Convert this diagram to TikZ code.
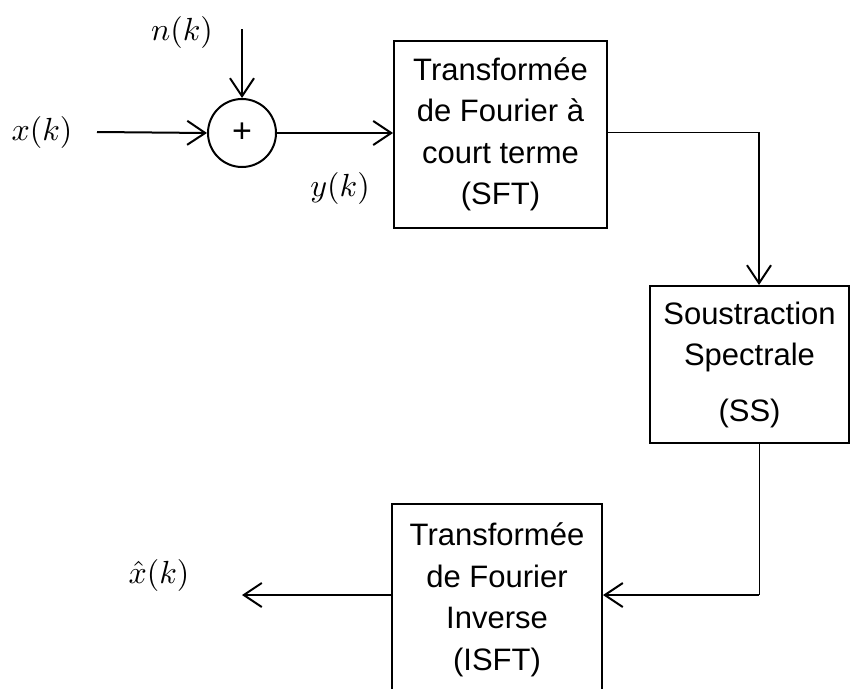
\documentclass[tikz,border=0pt]{standalone}
\usepackage{graphicx}
\usepackage{fontspec}
\setmainfont{Liberation Sans}
\usetikzlibrary{arrows.meta}
\newcommand{\mysig}[1]{\scalebox{3.2}{$#1$}}
\begin{document}
\begin{tikzpicture}[x=1pt,y=-1pt,
 blk/.style={draw,line width=2pt,inner sep=0pt,align=center,font=\fontsize{31}{41.5}\selectfont},
 sig/.style={inner sep=0pt},
 arr/.style={line width=2pt,-{Straight Barb[length=18pt,width=24pt,line width=2pt]}},
 thinline/.style={line width=1pt}]
\useasboundingbox (0,0) rectangle (851,688);
\node[sig] (xk) at (42,132) {\mysig{x(k)}};
\coordinate (xin) at (97,132);
\node[draw,circle,line width=2pt,minimum size=68pt,inner sep=0pt,font=\fontsize{34}{38}\selectfont] (sum) at (242,133) {+};
\node[sig] (nk) at (182,32) {\mysig{n(k)}};
\coordinate (nin) at (242,29);
\node[sig] (yk) at (340,188) {\mysig{y(k)}};
\node[blk,minimum width=213pt,minimum height=187pt] (b1) at (500.5,134.5) {Transformée\\de Fourier à\\court terme\\(SFT)};
\node[blk,minimum width=199pt,minimum height=157pt] (b2) at (749.5,364.5) {Soustraction\\Spectrale\\[14pt](SS)};
\node[blk,minimum width=210pt,minimum height=192pt] (b3) at (497,600) {Transformée\\de Fourier\\Inverse\\(ISFT)};
\node[sig] (xh) at (159,575) {\mysig{\hat{x}(k)}};
\coordinate (c1) at (759,132);
\coordinate (c2) at (759,595);
\coordinate (xout) at (242,595);
\draw[arr] (xin) -- (sum.west);
\draw[arr] (nin) -- (sum.north);
\draw[arr] (sum.east) -- (sum.east -| b1.west);
\draw[thinline] (b1.east |- c1) -- (c1);
\draw[arr] (c1) -- (c1 |- b2.north);
\draw[thinline] (c1 |- b2.south) -- (c2);
\draw[arr] (c2) -- (c2 -| b3.east);
\draw[arr] (b3.west |- c2) -- (xout);
\end{tikzpicture}
\end{document}
